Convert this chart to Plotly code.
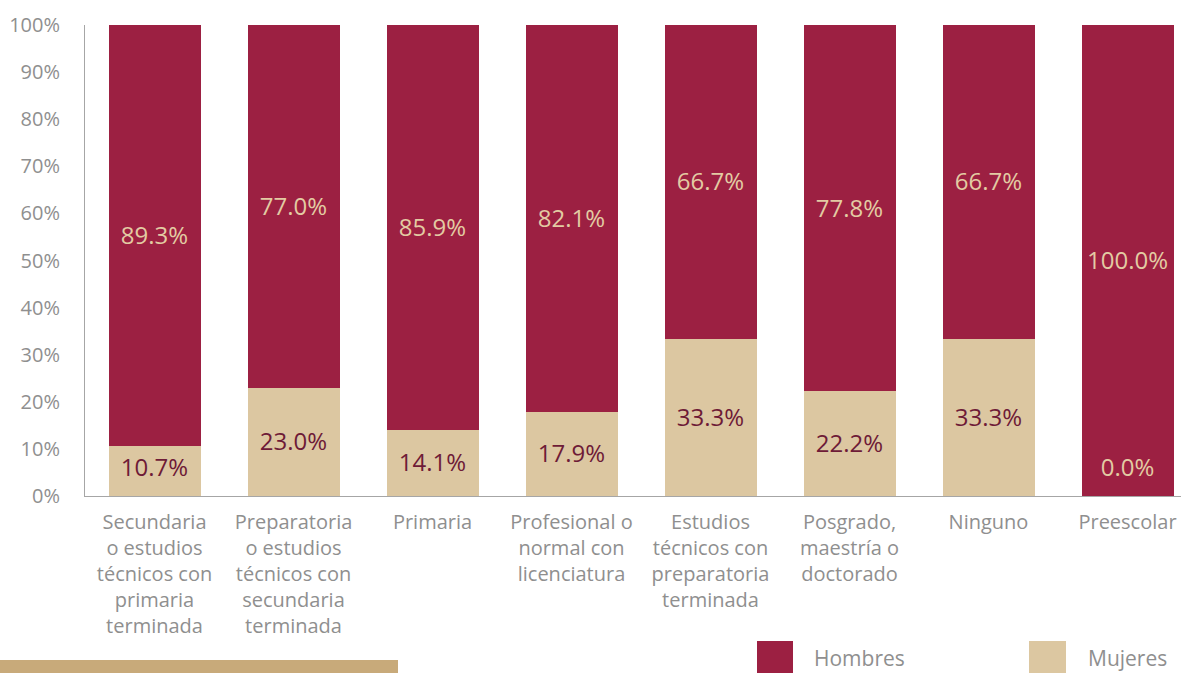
import plotly.graph_objects as go

categories = [
    "Secundaria<br>o estudios<br>técnicos con<br>primaria<br>terminada",
    "Preparatoria<br>o estudios<br>técnicos con<br>secundaria<br>terminada",
    "Primaria",
    "Profesional o<br>normal con<br>licenciatura",
    "Estudios<br>técnicos con<br>preparatoria<br>terminada",
    "Posgrado,<br>maestría o<br>doctorado",
    "Ninguno",
    "Preescolar",
]
hombres = [89.3, 77.0, 85.9, 82.1, 66.7, 77.8, 66.7, 100.0]
mujeres = [10.7, 23.0, 14.1, 17.9, 33.3, 22.2, 33.3, 0.0]
y_ticks = [0, 10, 20, 30, 40, 50, 60, 70, 80, 90, 100]

C_H = "#9c2042"
C_M = "#dcc7a1"
C_H_TXT = "#e3cba3"
C_M_TXT = "#6e1b37"
GRAY = "#8f8f8f"
FONT = "Open Sans"

W, H = 1181, 673
L, T, B = 85, 25, 177
plot_w = W - L
plot_h = H - T - B
cat_px = 139
xs = list(range(len(categories)))

fig = go.Figure()
fig.add_trace(go.Bar(x=xs, y=mujeres, name="Mujeres", marker=dict(color=C_M, line=dict(width=0)),
                     width=92 / cat_px, showlegend=False, hoverinfo="skip"))
fig.add_trace(go.Bar(x=xs, y=hombres, name="Hombres", marker=dict(color=C_H, line=dict(width=0)),
                     width=92 / cat_px, showlegend=False, hoverinfo="skip"))

# labels
m_pos = [max(m / 2, 6.0) - 0.5 for m in mujeres]
h_pos = [m + h / 2 - 0.5 for m, h in zip(mujeres, hombres)]
fig.add_trace(go.Scatter(x=xs, y=m_pos, mode="text", text=[f"{v:.1f}%" for v in mujeres],
                         textfont=dict(family=FONT, size=24, color=[C_M_TXT if v > 0 else C_H_TXT for v in mujeres]),
                         showlegend=False, hoverinfo="skip", cliponaxis=False))
fig.add_trace(go.Scatter(x=xs, y=h_pos, mode="text", text=[f"{v:.1f}%" for v in hombres],
                         textfont=dict(family=FONT, size=24, color=C_H_TXT),
                         showlegend=False, hoverinfo="skip", cliponaxis=False))

def px_x(p):
    return (p - L) / plot_w

def px_y(p):
    return (H - B - p) / plot_h

shapes = [
    dict(type="rect", xref="paper", yref="paper", x0=px_x(0), x1=px_x(398), y0=px_y(660), y1=px_y(690),
         fillcolor="#c8aa7a", line=dict(width=0), layer="above"),
    dict(type="rect", xref="paper", yref="paper", x0=px_x(757), x1=px_x(793), y0=px_y(641), y1=px_y(690),
         fillcolor=C_H, line=dict(width=0)),
    dict(type="rect", xref="paper", yref="paper", x0=px_x(1029), x1=px_x(1066), y0=px_y(641), y1=px_y(690),
         fillcolor=C_M, line=dict(width=0)),
]
annotations = [
    dict(xref="paper", yref="paper", x=px_x(812), y=px_y(658), text="Hombres", showarrow=False,
         xanchor="left", yanchor="middle", font=dict(family=FONT, size=21, color=GRAY)),
    dict(xref="paper", yref="paper", x=px_x(1086), y=px_y(658), text="Mujeres", showarrow=False,
         xanchor="left", yanchor="middle", font=dict(family=FONT, size=21, color=GRAY)),
]

fig.update_layout(
    width=W, height=H,
    margin=dict(l=L, r=0, t=T, b=B, pad=0),
    barmode="stack",
    bargap=0,
    plot_bgcolor="white", paper_bgcolor="white",
    font=dict(family=FONT, color=GRAY, size=20),
    shapes=shapes, annotations=annotations,
    showlegend=False,
)
fig.update_xaxes(
    type="linear", range=[-0.5, -0.5 + plot_w / cat_px],
    tickmode="array", tickvals=xs, ticktext=categories,
    showgrid=False, zeroline=False, showline=True, linecolor="#a6a6a6", linewidth=1,
    ticks="", tickfont=dict(family=FONT, size=20, color=GRAY), ticklabelstandoff=8,
    ticklabeloverflow="allow",
)
fig.update_yaxes(
    range=[0, 100], tickmode="array", tickvals=y_ticks, ticktext=[f"{v}%" for v in y_ticks],
    showgrid=False, zeroline=False, showline=True, linecolor="#a6a6a6", linewidth=1,
    ticks="", tickfont=dict(family=FONT, size=20, color=GRAY), ticklabelstandoff=20,
)

fig.write_html("out.html", config={"displayModeBar": False})
with open("out.html", "r", encoding="utf-8") as f:
    html = f.read()
html = html.replace("<head>", "<head><style>html,body{margin:0;padding:0;overflow:hidden;}</style>", 1)
with open("out.html", "w", encoding="utf-8") as f:
    f.write(html)
